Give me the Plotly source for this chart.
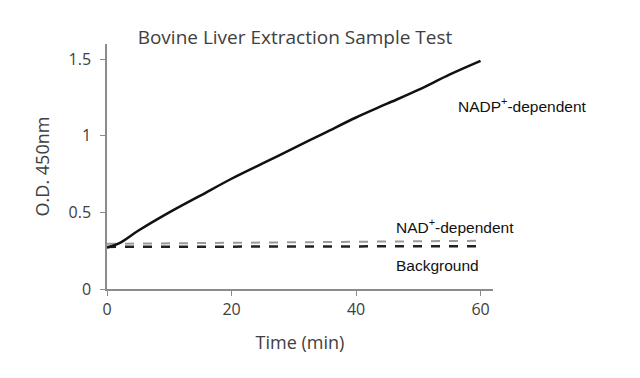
import plotly.graph_objects as go

time_nadp = [0, 2, 5, 10, 15, 20, 25, 30, 35, 40, 45, 50, 55, 60]
od_nadp = [0.27, 0.30, 0.38, 0.50, 0.61, 0.72, 0.82, 0.92, 1.02, 1.12, 1.21, 1.30, 1.40, 1.49]
time_flat = [0, 60]
od_nad = [0.295, 0.315]
od_bg = [0.275, 0.28]

title_text = "Bovine Liver Extraction Sample Test"
x_ticks = [0, 20, 40, 60]
y_ticks = [0, 0.5, 1, 1.5]
y_tick_labels = ["0", "0.5", "1", "1.5"]

fig = go.Figure()
fig.add_trace(go.Scatter(x=time_flat, y=od_nad, mode="lines",
                         line=dict(color="#9a9a9a", width=2, dash="dash")))
fig.add_trace(go.Scatter(x=time_flat, y=od_bg, mode="lines",
                         line=dict(color="#222222", width=2.5, dash="dash")))
fig.add_trace(go.Scatter(x=time_nadp, y=od_nadp, mode="lines", line_shape="spline",
                         line=dict(color="#111111", width=2.5)))

ann_font = dict(family="Liberation Sans, Arial", size=15.5, color="#111111")
fig.add_annotation(x=0.905, y=0.751, xref="paper", yref="paper", text="NADP<sup>+</sup>-dependent",
                   showarrow=False, font=ann_font, xanchor="left", yanchor="middle")
fig.add_annotation(x=0.744, y=0.257, xref="paper", yref="paper", text="NAD<sup>+</sup>-dependent",
                   showarrow=False, font=ann_font, xanchor="left", yanchor="middle")
fig.add_annotation(x=0.744, y=0.094, xref="paper", yref="paper", text="Background",
                   showarrow=False, font=ann_font, xanchor="left", yanchor="middle")

label_font = dict(family="Open Sans, Lato, sans-serif", size=18, color="#404040")
axis_common = dict(showgrid=False, zeroline=False, showline=True, linecolor="#8c8c8c",
                   linewidth=1.5, ticks="outside", tickcolor="#8c8c8c", ticklen=5,
                   tickfont=dict(family="Open Sans, Lato, sans-serif", size=16, color="#404040"),
                   automargin=False)

fig.update_layout(
    width=640, height=378,
    margin=dict(l=107, r=147, t=44, b=89),
    paper_bgcolor="white", plot_bgcolor="white",
    showlegend=False,
    title=dict(text=title_text, x=295/640, xanchor="center", y=1-37/378, yanchor="middle",
               font=dict(family="Open Sans, Lato, sans-serif", size=19, color="#404040")),
    xaxis=dict(range=[0, 62], tickvals=x_ticks,
               title=dict(text="Time (min)", font=label_font, standoff=17),
               **axis_common),
    yaxis=dict(range=[0, 1.6], tickvals=y_ticks, ticktext=y_tick_labels, ticklabelstandoff=6,
               title=dict(text="O.D. 450nm", font=label_font, standoff=14),
               **axis_common),
)

fig.write_html("out.html", config={"displayModeBar": False},
               post_script="document.body.style.margin='0';")
